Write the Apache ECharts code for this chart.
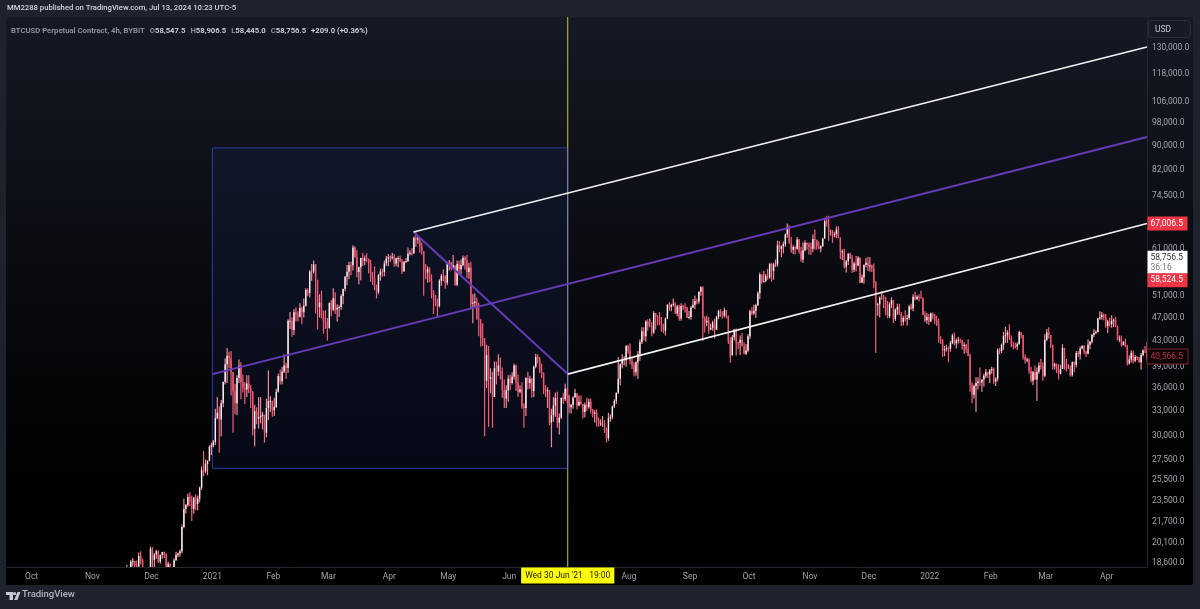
<!DOCTYPE html>
<html><head><meta charset="utf-8">
<style>html,body{margin:0;padding:0;background:#1e222d}#c{width:1200px;height:609px}</style>
<script src="https://cdn.jsdelivr.net/npm/echarts@6/dist/echarts.min.js"></script>
</head><body><div id="c"></div>
<script>
const firstDay = '2020-11-18';
const closes = [
[17800,17820,18680,18730,18420,18370,19100,18730,17150,17140,17720,18180,19630],
[18800,19220,19440,18700,19170,19380,19190,18320,18550,18250,18040,18800,19170,19270,19440,21310,22800,23140,23860,23480,22800,23820,23250,23730,24710,26440,26280,27040,27360,28840,29000],
[29370,32130,32780,31970,33990,36820,39370,40670,40240,38240,35540,34010,37390,39160,36820,36020,35790,36630,35890,35470,30850,33000,32080,32270,32370,32570,30430,33400,34270,34320,33110],
[33530,35510,37670,36950,38290,39190,38830,46400,46420,44840,47910,47500,47110,48720,47940,49130,52120,51550,55900,55900,57410,54200,48890,49700,47090,46340,46190,45140],
[49630,48380,50540,48370,48760,48880,50970,52380,54880,55860,57250,57230,61190,59000,55790,56830,58800,58230,58760,58720,57580,54530,54510,52770,51700,55140,55900,55780,57630,58730,58920],
[58920,59100,57600,58760,58800,58230,55900,58000,58100,59800,59990,59900,63500,63100,63300,61500,60400,56200,55700,56500,54000,51900,51200,50100,49100,54000,55000,54900,53600,57800],
[57800,56600,57200,53200,57500,56400,57300,58900,58300,55800,56700,49500,49700,49900,46800,46700,43500,42900,37000,40800,37300,37500,34800,38800,38300,39200,38400,35700,34600,35700,37300],
[36700,37600,39200,36800,35500,35800,33600,33400,37400,36700,37300,35600,39000,40500,40200,38300,38100,35800,35600,35700,31600,32500,33700,34700,31600,32200,34700,34500,35900,35000],
[33500,33800,34700,35300,33700,34200,33900,32900,33800,33500,34200,33100,32700,32800,31900,31400,31500,31500,30800,29800,32100,32300,33600,34300,35400,37300,39400,40000,40000,42200,41500],
[39900,39200,38200,39700,40900,42800,44600,43800,46300,45600,45600,44400,47800,47100,47000,46000,44800,44700,46800,49300,48900,49300,49500,47700,49000,46800,49100,48900,48800,47000,47100],
[48800,49300,50000,49900,51800,52700,46900,46100,46400,44900,45200,46100,44900,47100,48100,47700,47300,48300,47300,43000,40700,43600,44900,42800,42700,43200,42200,41000,41500,43800],
[48100,47700,48200,49200,51500,55300,53800,53900,55000,54700,57500,56000,57400,57400,61700,60900,61500,62000,64300,66000,62200,60700,61300,60900,63100,60300,58500,60600,62300,61900,61300],
[60900,63200,62900,61400,61000,61500,63300,67600,66900,64900,64900,64100,64400,65500,63600,60100,60400,56900,58100,59700,58700,56300,57600,57200,58900,53600,54700,57300,57800,57000],
[57200,56500,53600,49200,49400,50600,50600,50500,47700,47200,49400,50100,46700,48400,48900,47600,46200,46900,46700,46900,49000,48600,50800,50400,50800,50700,50600,47500,46500,47100,46300],
[47700,47300,46400,45800,43400,43100,41500,41700,41900,41800,42700,43900,42600,43100,43200,43100,42200,42400,41700,40700,36400,35100,36300,36700,36900,36800,37200,37700,38200,37900,38500],
[38700,36900,37300,41600,41400,42400,43800,44000,44400,43500,42400,42200,42100,42500,44500,44000,40500,40000,40100,38400,37000,38200,37200,38300,39200,39100,37700,43200],
[44400,44000,42400,39100,39400,38400,38000,38700,41900,39400,38800,38800,37800,39700,39300,41100,40900,41800,42200,41300,41000,42400,42900,44000,44300,44500,46800,47100,47500,47100,45500],
[46300,45800,46400,46600,45500,43200,43400,42300,42800,42200,39500,40100,41100,39900,40500,40400,39700,40800,41500,41400,40566]
];
const highs = [
[18480,18150,18820,18950,18750,18770,19350,19450,18900,17450,18200,18300,19800],
[19750,19300,19550,19500,19200,19400,19420,19300,18700,18550,18300,18930,19400,19350,19570,21500,23700,23250,24150,24300,24000,23850,24100,24000,24800,26800,28400,27500,27400,29000,29300],
[29600,33300,34800,33600,34400,36900,40300,41900,41300,41400,38200,36600,37800,40100,39700,37900,36800,37800,37800,36400,35600,33800,33500,34800,34800,32900,32500,34600,38500,34900,34300],
[34700,35900,38000,38600,39000,40900,39600,46700,48000,47000,48500,48800,48100,49600,49000,50500,52500,52500,56200,57500,58300,57500,54100,51300,52000,48200,48300,46900],
[49800,50200,52500,51700,49400,49200,51300,52300,54900,57300,58000,58000,61700,61500,60600,56900,58900,60000,59400,59900,58500,58400,55800,57000,53200,55400,56500,56500,58300,59300,59700],
[59400,60000,59700,58900,59200,59400,58600,58100,58800,61200,60600,61100,63800,64900,63700,63500,62400,60300,57500,57000,56800,55300,52100,51100,50500,54300,55400,56400,55100,58000],
[58400,58000,59500,57200,58300,58200,58500,59400,59200,59500,57800,58000,51300,51500,50700,49700,45800,46000,43500,42400,42200,38800,38300,39800,39800,40900,40400,38900,37200,36400,37800],
[37900,38200,39500,39300,37900,36400,36800,34000,37500,38300,37700,37400,39200,41000,40900,40500,39500,38200,36400,36100,35700,33300,34800,35400,35500,32700,34700,35300,36600,36000],
[35100,33900,34900,35900,35300,35000,35000,33900,34100,34700,34600,34600,33300,33100,33200,32200,32000,32400,31900,31000,32800,32600,33700,34500,35300,40500,39500,40900,40600,42300,42400],
[42600,40400,39700,39800,41400,43300,45300,45300,46500,46700,46800,46200,48100,47800,47400,48000,47100,45900,47000,49400,49800,49500,50500,49800,49300,49300,49600,49300,49600,48900,48200],
[49100,50400,51000,50500,51900,52900,52900,47200,47300,47100,45900,46400,46800,47300,48400,48500,48100,48800,48300,47300,43600,44000,45000,45100,42900,43900,44300,42800,42500,44100],
[48400,48900,49300,49500,51900,55700,55300,56000,55400,56500,57800,57700,57800,58500,62800,62700,61700,62600,64500,67000,66600,63700,61700,61500,63700,63200,61400,62400,62900,62300,62400],
[62400,64300,65500,63100,62600,61700,63500,68500,68900,69000,65500,65400,65000,66300,66300,63500,60800,60900,58400,60000,60000,59500,58000,59300,59300,59000,55300,57400,58800,59100],
[59000,57400,57600,53900,49700,50900,51900,51200,50800,50000,49800,50700,50200,48600,49500,49500,48000,47300,48300,47500,49300,49500,51300,51800,51100,51300,52000,50700,48100,47800,47600],
[47900,47900,47600,47300,46800,43800,43300,42200,42400,42100,43000,44200,44400,43400,43700,43400,43200,42800,42500,43300,41000,36800,36500,37500,37500,38900,37200,38000,38700,38300,38700],
[39000,38900,37500,41800,41900,42600,44500,45400,44800,45800,43900,42900,42700,42800,44700,44500,44000,40900,40400,40300,39000,38400,39200,38900,39700,40200,39700,44100],
[45000,45300,44000,42400,39600,39500,39400,39300,42500,41900,40200,39400,39200,39800,39800,41400,41400,42100,42300,42300,41500,43300,43000,44200,45000,44800,46900,48100,48000,47700,47600],
[46600,47000,47400,46800,47100,45600,43900,43900,43000,43400,42400,40700,41500,41500,40800,40600,40500,41100,41700,42200,42900]
];
const lows = [
[17220,17350,17800,18350,17600,18000,18100,18500,16300,16500,17500,17500,18150],
[18200,18300,18900,18600,18550,18900,18950,18200,17650,17900,17600,18000,18750,19000,19050,19300,21200,22400,23000,23050,21800,22400,22700,22700,23400,24500,25800,26100,25900,27300,27950],
[28800,29000,32000,28200,30000,33500,36500,36700,38800,35000,30400,32600,32500,36700,34500,35400,33900,34800,35300,33400,30100,28900,31400,30900,31500,30800,29300,29900,31900,32900,32300],
[32400,33400,35400,36500,36500,38100,37300,38100,45000,43700,44000,46300,46300,47000,45800,47000,49000,50900,50700,54000,55500,47700,44900,47000,46800,44200,45000,43100],
[45100,47200,48100,47600,46300,47100,48400,49400,51900,53100,54300,55100,56100,58900,54700,53300,54100,57100,57300,57900,55500,53800,53100,52100,50500,51300,54000,54800,54900,57100,57000],
[58000,58500,56900,57000,56800,57900,55400,55900,57800,58000,59400,59400,59800,61300,62100,60000,59600,51000,54300,53600,53700,50500,47600,49000,47100,48800,53000,53900,52400,53100],
[56100,56100,56600,53000,52900,55300,55300,57000,56300,54500,54400,48600,46000,48800,46600,43800,42100,42200,30000,36000,31100,35300,31000,34800,36500,37700,37200,34700,33400,33400,34200],
[35700,36500,37200,35600,34800,35300,33300,31000,32400,35800,35900,34700,34800,38800,39500,38100,37400,35200,34800,33400,31300,28800,31700,32300,31000,30200,32000,33900,34300,34000],
[32700,32700,33300,34800,33200,33600,33800,32100,32200,33000,33300,32700,32200,31600,31100,31100,31200,31100,30400,29300,29500,31700,32000,33400,33900,35200,36400,38800,39200,39000,41000],
[39400,38700,37600,37700,37300,39900,42500,43100,42900,44700,45300,43800,44200,44900,45600,45700,44500,44300,43900,46700,48200,48100,49000,47600,47200,46400,46400,48300,47900,46900,46700],
[46600,48700,48500,49400,49500,51000,43000,44400,45500,44200,44800,44700,43400,44800,46700,47100,46800,47000,46800,42500,39600,40800,43100,40700,41700,40800,42100,40900,40800,41200],
[43300,47400,47500,46900,49100,50400,53400,53700,53700,54200,54400,53800,54200,56900,56900,60100,59000,59900,61400,63500,62100,60000,59700,59600,60700,59800,58000,57800,60300,60700,59600],
[59500,60100,60700,60700,60800,60100,61400,63300,66200,62800,64000,62300,63600,63400,63400,58600,58400,56600,55700,57300,58600,55600,55800,55900,57000,53500,53600,53400,56800,56000],
[55900,55800,52500,41100,47300,47000,50300,48700,47400,46900,46900,48700,46000,46400,47500,47500,45500,45600,46300,45600,46600,48400,48100,50100,50200,49900,50500,47400,46200,45900,45700],
[46200,46700,45800,45500,42700,42500,40500,40600,41300,39700,41300,42500,42300,41800,42600,42700,41600,41000,41100,40600,35500,34000,34600,32900,35800,36300,35500,36200,37400,37400,36700],
[38000,36600,36300,36900,40900,41100,41600,42700,42700,43200,42000,41700,41800,41600,42400,43400,40100,39500,39700,38000,36800,36400,37100,34300,38000,38600,37000,37500],
[43000,43400,41900,38600,38600,38100,37200,37900,38700,38600,38300,38700,37600,37600,38200,38900,40500,40100,41700,40900,40500,40900,41700,42600,43600,44100,44400,46600,46600,46500,45200],
[44300,45400,45200,45300,45300,43100,42800,42100,42400,42000,39200,39300,39600,39500,39700,40000,39600,38600,40600,41100,40000]
];
const priceTicks = [130000,118000,106000,98000,90000,82000,74500,61000,51000,47000,43000,39000,36000,33000,30000,27500,25500,23500,21700,20100,18600];
const monthTicks = ['2020-10-01','2020-11-01','2020-12-01','2021-01-01','2021-02-01','2021-03-01','2021-04-01','2021-05-01','2021-06-01','2021-08-01','2021-09-01','2021-10-01','2021-11-01','2021-12-01','2022-01-01','2022-02-01','2022-03-01','2022-04-01'];
const monthLabels = ['Oct','Nov','Dec','2021','Feb','Mar','Apr','May','Jun','Aug','Sep','Oct','Nov','Dec','2022','Feb','Mar','Apr'];
const upperChannel = [['2021-04-13T08:00Z',64900],['2022-04-21T12:00Z',130500]];
const middleChannel = [['2021-01-01T00:00Z',37950],['2022-04-21T12:00Z',92900]];
const lowerChannel = [['2021-06-30T19:00Z',37950],['2022-04-21T12:00Z',67006.5]];
const diagonal = [['2021-04-13T08:00Z',64900],['2021-06-30T19:00Z',37950]];
const boxCorners = [['2021-01-01T00:00Z',89150],['2021-06-30T19:00Z',26590]];
const cursorTime = '2021-06-30T19:00Z';
const axisMinTime = '2020-09-18T12:00Z', axisMaxTime = '2022-04-21T12:00Z';
const axisMinPrice = 18320, axisMaxPrice = 146130;

const T = s => Date.parse(s);
const pts = a => a.map(p => [T(p[0]), p[1]]);
const C = closes.flat(), H = highs.flat(), L = lows.flat();
const t0 = Date.parse(firstDay + 'T12:00Z');
const candles = C.map((c, i) => [t0 + i * 864e5, i ? C[i - 1] : c, c, L[i], H[i]]);

const fmt = v => Number(v).toLocaleString('en-US', {minimumFractionDigits: 1, maximumFractionDigits: 1});
const tickTimes = monthTicks.map(s => Date.parse(s + 'T00:00Z'));
const labelOf = v => { const i = tickTimes.indexOf(+v); return i < 0 ? '' : monthLabels[i]; };
const font = 'Roboto, "Liberation Sans", sans-serif';
const tagLabel = (text, bg, col, extra) => Object.assign({show: true, position: 'right', distance: 0, formatter: text, backgroundColor: bg, color: col, fontFamily: font, fontSize: 8.5, padding: [3, 3, 2, 3], width: 34, align: 'left'}, extra || {});
const seg = (data, color, width, name, z) => ({type: 'line', name, data, symbol: 'none', silent: true, z: z || 5, animation: false, lineStyle: {color, width}});
const cursorT = T(cursorTime), maxT = T(axisMaxTime);
const tagPoint = (coord, label) => ({coord, symbol: 'rect', symbolSize: 1, itemStyle: {color: 'rgba(0,0,0,0)'}, label});

const UP_BODY = '#f6f1f1', UP_WICK = '#f08a9b', DOWN_BODY = '#f4566f', DOWN_WICK = '#f0607a';
function renderCandle(params, api) {
  const t = api.value(0), o = api.value(1), c = api.value(2);
  const lo = Math.max(api.value(3), axisMinPrice), hi = api.value(4);
  const up = c >= o;
  const top = api.coord([t, Math.max(o, c)]), bot = api.coord([t, Math.max(Math.min(o, c), axisMinPrice)]);
  const high = api.coord([t, hi]), low = api.coord([t, lo]);
  const children = [];
  if (low[1] > high[1]) children.push({type: 'rect', shape: {x: high[0] - 0.6, y: high[1], width: 1.2, height: low[1] - high[1]}, style: {fill: up ? UP_WICK : DOWN_WICK}});
  if (bot[1] > top[1]) children.push({type: 'rect', shape: {x: top[0] - 0.7, y: top[1], width: 1.4, height: Math.max(bot[1] - top[1], 1)}, style: {fill: up ? UP_BODY : DOWN_BODY}});
  return {type: 'group', children};
}

const chart = echarts.init(document.getElementById('c'), null, {renderer: 'canvas'});
chart.setOption({
  animation: false, useUTC: true,
  backgroundColor: 'transparent',
  grid: {left: 7, right: 53, top: 17, bottom: 42},
  title: [
    {left: 7, top: 4, padding: 0, text: 'MM2288 published on TradingView.com, Jul 13, 2024 10:23 UTC-5',
      textStyle: {color: '#d1d4dc', fontFamily: font, fontSize: 7.7, fontWeight: 500}},
    {left: 11, top: 22, padding: 0,
      text: '{g|BTCUSD Perpetual Contract, 4h, BYBIT} {g|O}{w|58,547.5} {g|H}{w|58,906.5} {g|L}{w|58,445.0} {g|C}{w|58,756.5} {w|+209.0 (+0.36%)}',
      textStyle: {rich: {g: {color: '#8d909a', fontFamily: font, fontSize: 7.7}, w: {color: '#d6d8df', fontFamily: font, fontSize: 7.7, fontWeight: 600}}}},
    {left: 22, top: 590, padding: 0, text: 'TradingView', textStyle: {color: '#b2b5be', fontFamily: font, fontSize: 9.5, fontWeight: 500}}
  ],
  graphic: [
    {type: 'rect', z: -10, silent: true, shape: {x: 0, y: 0, width: 1200, height: 609}, style: {fill: '#1e222d'}},
    {type: 'rect', z: -9, silent: true, shape: {x: 6, y: 17, width: 1187, height: 568, r: 2},
      style: {fill: new echarts.graphic.LinearGradient(0, 0, 0, 1, [{offset: 0, color: '#151924'}, {offset: 0.55, color: '#07080c'}, {offset: 0.85, color: '#000000'}, {offset: 1, color: '#000000'}])}},
    {type: 'rect', z: 20, silent: true, shape: {x: 1148.5, y: 20.5, width: 42, height: 17, r: 3}, style: {fill: '#171b26', stroke: '#2a2e39', lineWidth: 1}},
    {type: 'text', z: 21, silent: true, style: {x: 1155, y: 25, text: 'USD', fill: '#c8cad2', fontFamily: font, fontSize: 8.5}},
    {type: 'polygon', z: 21, silent: true, shape: {points: [[6,592],[13,592],[13,600],[9.5,600],[9.5,595],[6,595]]}, style: {fill: '#c8cad2'}},
    {type: 'circle', z: 21, silent: true, shape: {cx: 14.6, cy: 593.6, r: 1.6}, style: {fill: '#c8cad2'}},
    {type: 'polygon', z: 21, silent: true, shape: {points: [[17.5,592],[20.5,592],[17.4,600],[14.2,600]]}, style: {fill: '#c8cad2'}}
  ],
  xAxis: {
    type: 'value', min: T(axisMinTime), max: maxT,
    axisLine: {show: true, lineStyle: {color: '#23262f', width: 1}}, axisTick: {show: false}, splitLine: {show: false},
    axisLabel: {customValues: tickTimes, formatter: v => labelOf(v), color: '#a0a3ab', fontFamily: font, fontSize: 8.5, margin: 5, hideOverlap: false}
  },
  yAxis: {
    type: 'log', logBase: Math.E, position: 'right', min: axisMinPrice, max: axisMaxPrice,
    axisLine: {show: true, onZero: false, lineStyle: {color: '#23262f', width: 1}}, axisTick: {show: false}, splitLine: {show: false}, minorTick: {show: false},
    axisLabel: {customValues: priceTicks, formatter: v => fmt(v), color: '#a3a6ae', fontFamily: font, fontSize: 8.5, margin: 5, hideOverlap: false}
  },
  series: [
    {type: 'line', name: 'box', data: [], silent: true, z: 3,
      markArea: {silent: true, itemStyle: {color: 'rgba(38,60,150,0.13)', borderColor: '#2b3f9c', borderWidth: 1},
        data: [[{coord: pts(boxCorners)[0]}, {coord: pts(boxCorners)[1]}]]}},
    seg([[cursorT, axisMaxPrice], [cursorT, boxCorners[0][1]]], '#c9c91e', 1, 'cursorTop', 4),
    seg([[cursorT, boxCorners[0][1]], [cursorT, boxCorners[1][1]]], '#8b95a8', 1, 'cursorMid', 4),
    seg([[cursorT, boxCorners[1][1]], [cursorT, axisMinPrice]], '#c9c91e', 1, 'cursorBottom', 4),
    {type: 'custom', name: 'BTCUSD', data: candles, clip: true, z: 6, silent: true,
      encode: {x: 0, y: [1, 2, 3, 4]}, renderItem: renderCandle},
    seg(pts(middleChannel), '#673ab7', 2, 'middle', 7),
    seg(pts(diagonal), '#673ab7', 2, 'diagonal', 7),
    seg(pts(upperChannel), '#f2f2f2', 1.6, 'upper', 8),
    seg(pts(lowerChannel), '#f2f2f2', 1.6, 'lower', 8),
    {type: 'line', name: 'tags', data: [], silent: true, z: 30,
      markPoint: {silent: true, animation: false, data: [
        tagPoint([maxT, 67006.5], tagLabel(fmt(67006.5), '#f23645', '#fff')),
        tagPoint([maxT, 58756.5], tagLabel(fmt(58756.5) + '\n{s|36:16}', '#ffffff', '#333', {offset: [0, 4], rich: {s: {color: '#777', fontSize: 8.5, fontFamily: font}}, padding: [2, 3, 1, 3], lineHeight: 10})),
        tagPoint([maxT, 58524.5], tagLabel(fmt(58524.5), '#f23645', '#fff', {offset: [0, 21]})),
        tagPoint([maxT, 40566.5], tagLabel(fmt(40566.5), '#0e0306', '#b8324a', {borderColor: '#7d2433', borderWidth: 1})),
        tagPoint([cursorT, axisMinPrice], {show: true, position: 'bottom', distance: 0, formatter: "Wed 30 Jun '21   19:00", backgroundColor: '#ffff00', color: '#222', fontFamily: font, fontSize: 8.5, padding: [4, 4, 3, 4]})
      ]}}
  ]
});
</script></body></html>
